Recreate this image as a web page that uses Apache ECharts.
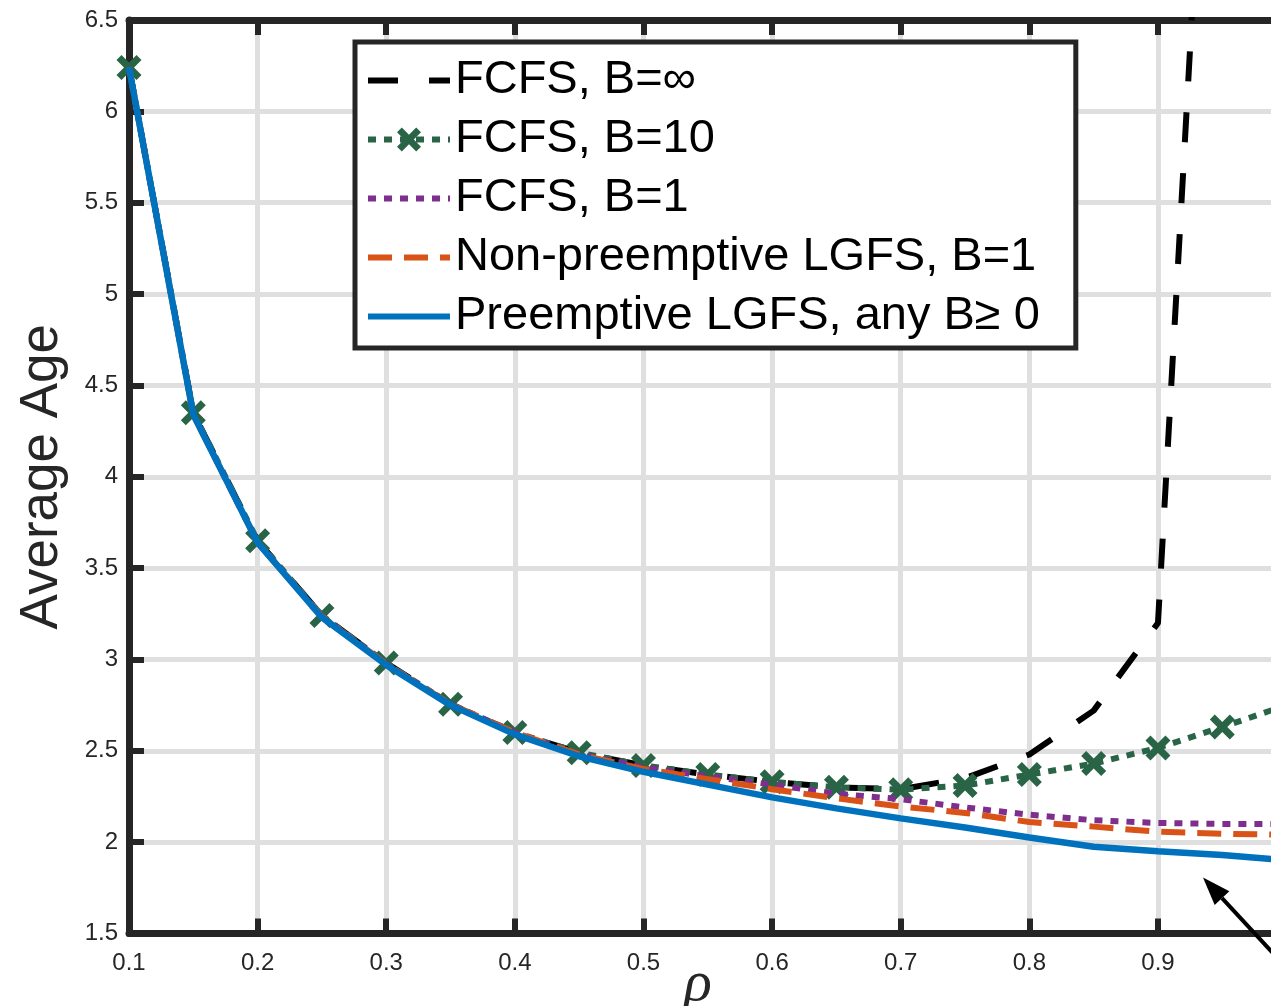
<!DOCTYPE html>
<html>
<head>
<meta charset="utf-8">
<script src="https://cdn.jsdelivr.net/npm/echarts@6/dist/echarts.min.js"></script>
<style>
html,body{margin:0;padding:0;background:#fff;}
#chart{width:1271px;height:1006px;}
</style>
</head>
<body>
<div id="chart"></div>
<script>
// ---- data ----
var rho = [0.1, 0.15, 0.2, 0.25, 0.3, 0.35, 0.4, 0.45, 0.5, 0.55, 0.6, 0.65, 0.7, 0.75, 0.8, 0.85, 0.9, 0.95, 1.0];
var fcfsInf = [6.24, 4.35, 3.65, 3.24, 2.98, 2.755, 2.60, 2.49, 2.42, 2.37, 2.33, 2.30, 2.29, 2.35, 2.48, 2.72, 3.2, 9.5, null];
var fcfs10 = [6.24, 4.35, 3.65, 3.24, 2.98, 2.755, 2.60, 2.49, 2.42, 2.37, 2.33, 2.30, 2.287, 2.31, 2.37, 2.43, 2.516, 2.63, 2.75];
var fcfs1 = [6.24, 4.34, 3.64, 3.235, 2.975, 2.755, 2.60, 2.48, 2.41, 2.36, 2.315, 2.265, 2.235, 2.19, 2.15, 2.12, 2.105, 2.10, 2.10];
var npLgfs = [6.24, 4.34, 3.64, 3.235, 2.975, 2.755, 2.60, 2.48, 2.40, 2.345, 2.29, 2.24, 2.195, 2.16, 2.11, 2.085, 2.057, 2.046, 2.04];
var pLgfs = [6.24, 4.34, 3.64, 3.23, 2.97, 2.75, 2.59, 2.47, 2.385, 2.315, 2.245, 2.185, 2.13, 2.08, 2.025, 1.975, 1.95, 1.93, 1.90];
var seriesNames = ['FCFS, B=\u221e', 'FCFS, B=10', 'FCFS, B=1', 'Non-preemptive LGFS, B=1', 'Preemptive LGFS, any B\u2265 0'];
var xTicks = {min: 0.1, max: 1.0, step: 0.1};
var yTicks = {min: 1.5, max: 6.5, step: 0.5};
// annotation arrow (data space): head and tail
var arrowHead = [0.935, 1.806];
var arrowTail = [1.02, 1.16];

function pairs(vals) {
  var out = [];
  for (var i = 0; i < rho.length; i++) out.push([rho[i], vals[i]]);
  return out;
}

var AXC = '#262626';
var crossPath = 'path://M0,4 L4,0 L10,6 L16,0 L20,4 L14,10 L20,16 L16,20 L10,14 L4,20 L0,16 L6,10 Z';
var hiddenMark = {color: 'rgba(0,0,0,0)', opacity: 0, borderWidth: 0};

var chart = echarts.init(document.getElementById('chart'), null, {renderer: 'canvas'});

var option = {
  animation: false,
  backgroundColor: '#ffffff',
  grid: {left: 129, top: 20, width: 1157.6, height: 913.5, containLabel: false, outerBoundsMode: 'none'},
  legend: {
    left: 355, top: 42,
    orient: 'vertical',
    data: [
      {name: seriesNames[0], itemStyle: hiddenMark},
      {name: seriesNames[1]},
      {name: seriesNames[2], itemStyle: hiddenMark},
      {name: seriesNames[3], itemStyle: hiddenMark},
      {name: seriesNames[4], itemStyle: hiddenMark}
    ],
    itemWidth: 82, itemHeight: 30, itemGap: 12,
    padding: [15, 36, 8, 10],
    backgroundColor: '#ffffff',
    borderColor: AXC, borderWidth: 5,
    lineStyle: {width: 6},
    textStyle: {fontFamily: 'Liberation Sans, Arial, sans-serif', fontSize: 47, color: '#000', lineHeight: 47},
    selectedMode: false
  },
  xAxis: [{
    type: 'value', min: xTicks.min, max: xTicks.max, interval: xTicks.step,
    position: 'bottom',
    name: '\u03c1', nameLocation: 'middle', nameGap: 22, nameMoveOverlap: false,
    nameTextStyle: {fontFamily: 'Liberation Serif, Times New Roman, serif', fontStyle: 'italic', fontSize: 58, color: AXC, padding: [0, 20, 0, 0]},
    axisLine: {show: true, onZero: false, lineStyle: {color: AXC, width: 7}},
    axisTick: {show: true, inside: true, length: 15, lineStyle: {color: AXC, width: 6}},
    axisLabel: {margin: 18, fontFamily: 'Liberation Sans, Arial, sans-serif', fontSize: 24, color: AXC,
      formatter: function (v) { return String(+v.toFixed(2)); }},
    splitLine: {show: true, lineStyle: {color: '#dfdfdf', width: 5}}
  }, {
    type: 'value', min: xTicks.min, max: xTicks.max, interval: xTicks.step,
    position: 'top',
    axisLine: {show: true, onZero: false, lineStyle: {color: AXC, width: 7}},
    axisTick: {show: true, inside: true, length: 15, lineStyle: {color: AXC, width: 6}},
    axisLabel: {show: false},
    splitLine: {show: false}
  }],
  yAxis: [{
    type: 'value', min: yTicks.min, max: yTicks.max, interval: yTicks.step,
    name: 'Average Age', nameLocation: 'middle', nameGap: 60, nameMoveOverlap: false,
    nameTextStyle: {fontFamily: 'Liberation Sans, Arial, sans-serif', fontSize: 53, color: AXC},
    axisLine: {show: true, onZero: false, lineStyle: {color: AXC, width: 7}},
    axisTick: {show: true, inside: true, length: 15, lineStyle: {color: AXC, width: 6}},
    axisLabel: {margin: 11, fontFamily: 'Liberation Sans, Arial, sans-serif', fontSize: 24, color: AXC},
    splitLine: {show: true, lineStyle: {color: '#dfdfdf', width: 5}}
  }],
  series: [
    {
      name: seriesNames[0], type: 'line', data: pairs(fcfsInf),
      symbol: 'none', connectNulls: false,
      lineStyle: {color: '#000000', width: 6, type: [30, 31], cap: 'butt'},
      itemStyle: {color: '#000000'}, z: 3
    },
    {
      name: seriesNames[1], type: 'line', data: pairs(fcfs10),
      symbol: crossPath, symbolSize: 25, showAllSymbol: true,
      lineStyle: {color: '#2a6446', width: 6, type: [8, 8], cap: 'butt'},
      itemStyle: {color: '#2a6446', borderWidth: 0}, z: 4
    },
    {
      name: seriesNames[2], type: 'line', data: pairs(fcfs1),
      symbol: 'none',
      lineStyle: {color: '#7E2F8E', width: 6, type: [8, 8], cap: 'butt'},
      itemStyle: {color: '#7E2F8E'}, z: 5
    },
    {
      name: seriesNames[3], type: 'line', data: pairs(npLgfs),
      symbol: 'none',
      lineStyle: {color: '#D95319', width: 6, type: [24, 12], cap: 'butt'},
      itemStyle: {color: '#D95319'}, z: 6
    },
    {
      name: seriesNames[4], type: 'line', data: pairs(pLgfs),
      symbol: 'none',
      lineStyle: {color: '#0072BD', width: 6.5, type: 'solid'},
      itemStyle: {color: '#0072BD'}, z: 7
    }
  ]
};
chart.setOption(option);

// arrow annotation positioned through the chart's scales
var h = chart.convertToPixel({xAxisIndex: 0, yAxisIndex: 0}, arrowHead);
var t = chart.convertToPixel({xAxisIndex: 0, yAxisIndex: 0}, arrowTail);
var dx = h[0] - t[0], dy = h[1] - t[1];
var L = Math.sqrt(dx * dx + dy * dy);
var ux = dx / L, uy = dy / L;
var headLen = 28, headHalf = 10;
var bx = h[0] - ux * headLen, by = h[1] - uy * headLen;
var px = -uy, py = ux;
chart.setOption({
  graphic: [
    {type: 'line', z: 100, shape: {x1: t[0], y1: t[1], x2: bx, y2: by}, style: {stroke: '#000', lineWidth: 4}},
    {type: 'polygon', z: 100, shape: {points: [[h[0], h[1]], [bx + px * headHalf, by + py * headHalf], [bx - px * headHalf, by - py * headHalf]]}, style: {fill: '#000'}}
  ]
});
</script>
</body>
</html>
